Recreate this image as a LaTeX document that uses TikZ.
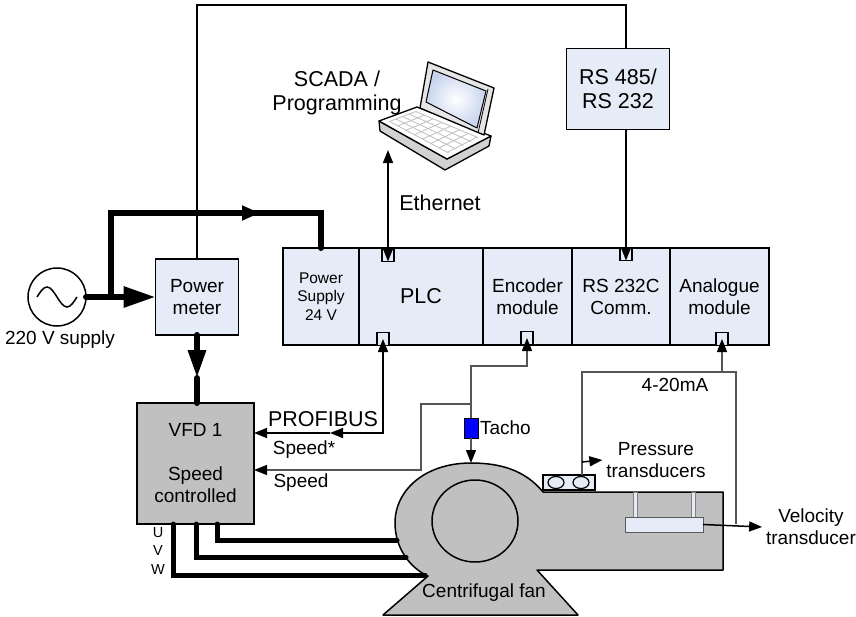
\documentclass[tikz,border=0pt]{standalone}
\usepackage{fontspec}
\setmainfont{Liberation Sans}
\usetikzlibrary{arrows.meta,positioning,calc}

\definecolor{modfill}{RGB}{230,236,247}
\definecolor{fanfill}{RGB}{192,192,192}
\definecolor{wire}{RGB}{85,85,85}
\definecolor{screen}{RGB}{200,212,238}

\newcommand{\fmain}{\fontsize{19}{22}\selectfont}
\newcommand{\fbig}{\fontsize{21.5}{24.5}\selectfont}
\newcommand{\fsmall}{\fontsize{15.5}{18.5}\selectfont}
\newcommand{\ftiny}{\fontsize{14.5}{18}\selectfont}

\tikzset{
	every node/.style={font=\fmain, inner sep=0pt, outer sep=0pt},
	box/.style={draw, fill=modfill, line width=1.5pt, align=center},
	module/.style={box, minimum height=97pt, anchor=north west},
	port/.style={draw, fill=modfill, line width=1.3pt, minimum width=12pt, minimum height=13pt},
	sig/.style={line width=1.5pt},
	fb/.style={line width=1.3pt, draw=wire},
	power/.style={line width=6pt, line cap=round},
	tip/.style={-{Triangle[length=13pt,width=10pt]}},
	twotip/.style={{Triangle[length=13pt,width=10pt]}-{Triangle[length=13pt,width=10pt]}},
}

\begin{document}
\begin{tikzpicture}[x=1pt,y=-1pt]
	\useasboundingbox (0,0) rectangle (856,616);

	% PLC rack
	\node[module, minimum width=76pt, font=\fsmall] (ps) at (283,248) {Power\\Supply\\24 V};
	\node[module, minimum width=124pt, font=\fbig] (plc) at (ps.north east) {PLC};
	\node[module, minimum width=89pt] (enc) at (plc.north east) {Encoder\\module};
	\node[module, minimum width=98pt] (rsc) at (enc.north east) {RS 232C\\Comm.};
	\node[module, minimum width=99pt] (ana) at (rsc.north east) {Analogue\\module};

	\node[port] (plct) at (388,255) {};
	\node[port] (rsct) at (626,254) {};
	\node[port] (plcb) at (383,339) {};
	\node[port] (encb) at (527,338) {};
	\node[port] (anab) at (722,339) {};

	\node[box, minimum width=83pt, minimum height=76pt] (pm) at (197,297) {Power\\meter};
	\node[box, minimum width=103pt, minimum height=81pt, font=\fbig] (rs) at (618,89) {RS 485/\\RS 232};
	\node[box, fill=fanfill, minimum width=117pt, minimum height=121pt] (vfd) at (195.5,463.5) {VFD 1\\[22pt]Speed\\controlled};

	% supply
	\node[circle, draw, line width=1.5pt, minimum size=58pt] (sup) at (57,297) {};
	\draw[line width=1.5pt] ([xshift=-20pt]sup.center) sin ++(10,-10) cos ++(10,10) sin ++(10,10) cos ++(10,-10);
	\node (supl) at (60,340) {220 V supply};

	\coordinate (br) at (111,297);
	\coordinate (psin) at (321,213);
	\coordinate (pmv) at (197,378);
	\draw[power] (br) |- (psin) -- (ps.north);
	\draw[power,-{Triangle[length=18pt,width=14pt]}] (br |- psin) -- (260,213);
	\draw[power,-{Triangle[length=32pt,width=20pt]}] (sup.east) -- (pm.west);
	\draw[power,-{Triangle[length=28pt,width=17pt]}] (pm.south) -- (pmv);
	\draw[power] (pmv) -- (vfd.north -| pmv);

	% laptop
	\coordinate (FL) at (379,121);
	\coordinate (BL) at (417,107);
	\coordinate (BR) at (491,136);
	\coordinate (FR) at (447,159);
	\filldraw[fill=gray!35, line width=1.3pt, line join=round] (FL) -- (380,131) -- (445,170) -- (489,146) -- (BR) -- (FR) -- cycle;
	\filldraw[fill=white, line width=1.3pt, line join=round] (FL) -- (BL) -- (BR) -- (FR) -- cycle;
	\foreach \t in {0.15,0.32,0.49,0.66,0.83} {
		\coordinate (ka) at ($(FL)!\t!(BL)$);
		\coordinate (kb) at ($(FR)!\t!(BR)$);
		\draw[gray!50, line width=0.8pt] ($(ka)!0.07!(kb)$) -- ($(kb)!0.07!(ka)$);
	}
	\foreach \t in {0.07,0.19,...,0.95} {
		\coordinate (ka) at ($(FL)!\t!(FR)$);
		\coordinate (kb) at ($(BL)!\t!(BR)$);
		\draw[gray!50, line width=0.8pt] ($(ka)!0.15!(kb)$) -- ($(kb)!0.17!(ka)$);
	}
	\filldraw[fill=gray!20, line width=1.3pt, line join=round] (420,108) -- (428,62) -- (494,88) -- (484,135) -- cycle;
	\draw[line width=0.8pt] (488,89) -- (478,133);
	\shade[inner color=white, outer color=screen] (426,102) -- (433,70) -- (486,91) -- (477,128) -- cycle;
	\draw[line width=1pt, line join=round] (426,102) -- (433,70) -- (486,91) -- (477,128) -- cycle;

	\node[font=\fbig, align=center] (scada) at (337,93) {SCADA /\\Programming};

	% communication
	\coordinate (top) at (400,5);
	\coordinate (lap) at (388,150);
	\draw[sig] (pm.north) |- (top) -| (rs.north -| rsct);
	\draw[sig,tip] (rs.south -| rsct) -- (rsct.south);
	\draw[sig,twotip] (lap) -- (plct.south);
	\node[font=\fbig] (eth) at (440,203) {Ethernet};

	\coordinate (pbm) at (330,433);
	\draw[sig,twotip] (plcb.center) |- (pbm);
	\draw[sig,tip] (pbm) -- (vfd.east |- pbm);
	\node[font=\fbig] (pbl) at (323,419) {PROFIBUS};
	\node (spsl) at (304,450) {Speed*};
	\node (spl) at (301,483) {Speed};

	% fan
	\filldraw[fill=fanfill, line width=1.5pt, line join=round] (543,492) .. controls (525,470) and (500,463) .. (471,463) .. controls (425,463) and (395,490) .. (395,523) .. controls (395,548) and (410,568) .. (428,576) -- (383,615) -- (578,615) -- (537,570) -- (723,570) -- (723,492) -- cycle;
	\draw[line width=1.5pt] (475,521) ellipse (43 and 41);
	\node (fanl) at (484,593) {Centrifugal fan};

	\foreach \x/\y/\e in {217/540/397, 196/557/406, 173/575/425}
		\draw[line width=5pt, line cap=round] (\x,524) |- (\e,\y);
	\foreach \name/\y in {U/533, V/551, W/570}
		\node[font=\ftiny] (lbl\name) at (158,\y) {\name};

	% speed feedback
	\node[draw, fill=blue, line width=1pt, minimum width=14pt, minimum height=20pt] (tacho) at (471,428) {};
	\node[anchor=west] (tachol) at ([xshift=2pt]tacho.east) {Tacho};
	\coordinate (e1) at (471,366);
	\coordinate (e2) at (471,404);
	\coordinate (e3) at (421,470);
	\coordinate (fantop) at (471,463);
	\draw[fb,{Triangle[length=13pt,width=10pt,color=black]}-] (encb.center) |- (e1) -- (tacho.north);
	\draw[fb,-{Triangle[length=13pt,width=10pt,color=black]}] (tacho.south) -- (fantop);
	\draw[fb,-{Triangle[length=13pt,width=10pt,color=black]}] (e2) -| (e3) -- (vfd.east |- e3);

	% transducers
	\node[draw, fill=modfill, line width=1.2pt, minimum width=52pt, minimum height=15pt] (pt) at (569,482.5) {};
	\draw[line width=1.2pt] (556,482.5) ellipse (8 and 6);
	\draw[line width=1.2pt] (581,482.5) ellipse (8 and 6);
	\node[align=center] (ptl) at (656,460) {Pressure\\transducers};

	\foreach \x in {635,693}
		\filldraw[fill=modfill, draw=gray, line width=0.8pt] (\x-2,492) rectangle (\x+2,517);
	\node[draw=gray!70!black, fill=modfill, line width=1pt, minimum width=78pt, minimum height=15pt] (vt) at (664,524.5) {};
	\node[align=center] (vtl) at (811,527) {Velocity\\transducer};

	\coordinate (p1) at (582,372);
	\coordinate (p2) at (582,462);
	\coordinate (a1) at (722,372);
	\coordinate (vj) at (736,524);
	\draw[fb] (pt.north -| p1) -- (p1) -| (vj);
	\draw[fb,-{Triangle[length=13pt,width=10pt,color=black]}] (a1) -- (anab.center);
	\draw[sig,tip] (p2) -- ([xshift=-4pt]ptl.west);
	\draw[sig,tip] (vt.east) -- ([xshift=-4pt]vtl.west);
	\node (mal) at (675,385) {4-20mA};
\end{tikzpicture}
\end{document}
